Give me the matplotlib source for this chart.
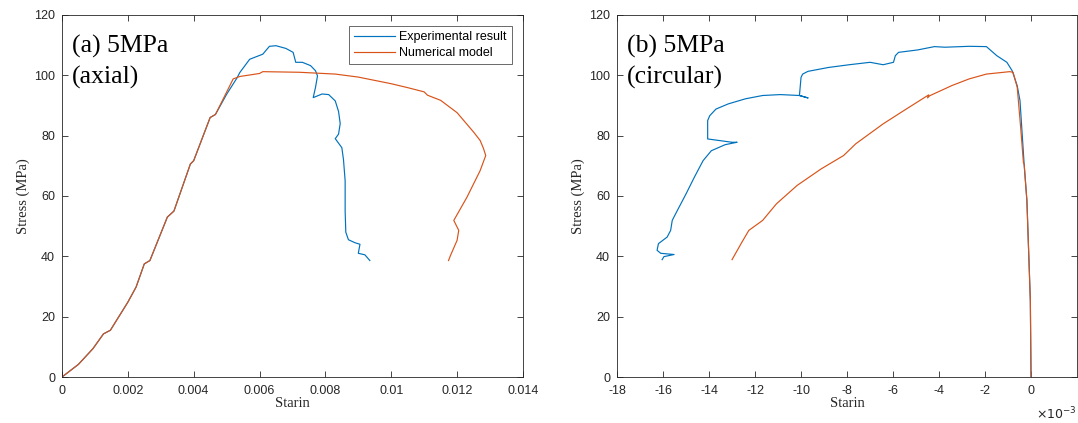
import numpy as np
import matplotlib
matplotlib.use("Agg")
import matplotlib.pyplot as plt
from matplotlib.ticker import FuncFormatter

plt.rcParams['font.family'] = ['Liberation Sans', 'DejaVu Sans']
plt.rcParams['axes.unicode_minus'] = False

BLUE = '#0072BD'
ORANGE = '#D95319'

# ---- (a) axial : strain, stress (MPa)
axial_num_x = [0, 0.0005, 0.00094, 0.00126, 0.00147, 0.002, 0.00225, 0.0025, 0.00267, 0.0032, 0.0034,
               0.0039, 0.004, 0.0045, 0.00466, 0.0052, 0.0054, 0.0060, 0.0061, 0.0072, 0.0083,
               0.009, 0.0100, 0.0105, 0.0110, 0.0111, 0.0115, 0.0120, 0.0125, 0.0127, 0.0128,
               0.01287, 0.0127, 0.0123, 0.0119, 0.01205, 0.0120, 0.0118, 0.01174]
axial_num_y = [0, 4.2, 9.4, 14.3, 15.5, 24.8, 29.8, 37.5, 38.6, 53, 55,
               70.6, 71.7, 86, 87, 98.8, 99.6, 100.6, 101.2, 101.0, 100.4,
               99.4, 97.2, 95.9, 94.5, 93.4, 91.7, 87.6, 81.2, 78.4, 75.8,
               73.4, 68.4, 59.6, 51.9, 48.6, 45.3, 40.3, 38.6]

axial_exp_x = [0, 0.0005, 0.00094, 0.00126, 0.00147, 0.002, 0.00225, 0.0025, 0.00267, 0.0032, 0.0034,
               0.0039, 0.004, 0.0045, 0.00466,
               0.0050, 0.00532, 0.0054, 0.0057, 0.0061, 0.0063, 0.0065, 0.0068, 0.00702,
               0.0071, 0.0073, 0.00755, 0.0077, 0.00776, 0.0077, 0.00763, 0.0079, 0.0081, 0.0083,
               0.0084, 0.00845, 0.0084, 0.0083, 0.0084, 0.0085, 0.00855, 0.0086, 0.0086, 0.00862,
               0.0087, 0.0089, 0.00905, 0.009, 0.0092, 0.00935]
axial_exp_y = [0, 4.2, 9.4, 14.3, 15.5, 24.8, 29.8, 37.5, 38.6, 53, 55,
               70.6, 71.7, 86, 87,
               93.7, 99.2, 100.9, 105.3, 107, 109.6, 109.8, 108.9, 107.6,
               104.3, 104.3, 103.2, 101.5, 99.8, 96, 92.6, 93.8, 93.6, 91.5,
               88, 84, 80.5, 79, 77.5, 76, 72, 65, 55, 48,
               45.5, 44.5, 44, 41, 40.5, 38.6]

# ---- (b) circular : strain (x1e-3), stress (MPa)
circ_num_x = [0, -0.03, -0.18, -0.3, -0.33, -0.45, -0.6, -0.78, -0.93, -1.94,
              -2.69, -3.44, -4.41, -4.5, -4.45, -5.53, -6.43, -7.62, -8.15, -9.12,
              -10.17, -11.07, -11.67, -12.27, -12.57, -13.0]
circ_num_y = [0, 25.4, 58.5, 70.6, 71, 82.6, 96, 101, 101.2, 100.4,
              98.8, 96.6, 93.2, 92.5, 93.5, 88.3, 83.9, 77.3, 73.4, 69,
              63.5, 57.4, 51.9, 48.6, 44.7, 38.9]

circ_exp_x = [0, -0.03, -0.18, -0.3, -0.48, -0.6, -0.82, -1.05, -1.49, -1.94,
              -2.69, -3.74, -4.2, -4.93, -5.76, -5.9, -5.98, -6.43, -7.0, -7.9,
              -8.8, -9.7, -9.93, -10.0, -10.07, -9.7, -10.07, -10.9, -11.67, -12.42,
              -13.17, -13.7, -13.97, -14.06, -14.06, -13.0, -12.78, -13.3, -13.9, -14.26,
              -14.64, -15.0, -15.46, -15.6, -15.67, -15.82, -16.2, -16.26, -16.1, -15.52,
              -15.96, -16.04]
circ_exp_y = [0, 25.4, 58.5, 70.6, 91.6, 96.5, 101.5, 104.3, 106.5, 109.5,
              109.6, 109.3, 109.5, 108.4, 107.6, 106.5, 104.3, 103.5, 104.3, 103.5,
              102.6, 101.3, 100.4, 99.3, 93.3, 92.5, 93.3, 93.6, 93.3, 92.2,
              90.5, 88.8, 86.6, 85, 78.9, 77.8, 77.8, 77, 75, 71.7,
              66.2, 60.7, 54, 51.9, 48.6, 46.4, 44.2, 42, 41, 40.6,
              39.9, 38.9]

fig = plt.figure(figsize=(10.78, 4.23), dpi=100)
ax1 = fig.add_axes([0.0575, 0.1087, 0.4276, 0.856])
ax2 = fig.add_axes([0.5724, 0.1087, 0.4267, 0.856])


def style(ax):
    for s in ax.spines.values():
        s.set_color('#262626')
        s.set_linewidth(0.6)
    ax.tick_params(direction='in', length=4, width=0.6, top=True, right=True,
                   labelsize=9, colors='#262626', labelcolor='#262626')
    ax.tick_params(axis='x', pad=6)
    ax.tick_params(axis='y', pad=5)
    ax.set_ylim(0, 120)
    ax.set_yticks(np.arange(0, 121, 20))
    ax.set_ylabel('Stress (MPa)', family='Liberation Serif', fontsize=10.5, color='#262626', labelpad=3)
    ax.set_xlabel('Starin', family='Liberation Serif', fontsize=10.5, color='#262626', labelpad=0)


ax1.plot(axial_exp_x, axial_exp_y, color=BLUE, lw=0.85, label='Experimental result')
ax1.plot(axial_num_x, axial_num_y, color=ORANGE, lw=0.85, label='Numerical model')
ax1.set_xlim(0, 0.014)
ax1.set_xticks(np.arange(0, 0.0141, 0.002))
ax1.xaxis.set_major_formatter(FuncFormatter(lambda v, p: '%g' % round(v, 4)))
style(ax1)
ax1.text(0.022, 0.945, '(a) 5MPa\n(axial)', transform=ax1.transAxes, va='top', ha='left',
         family='Liberation Serif', fontsize=18.5, linespacing=1.45)
leg = ax1.legend(loc='upper right', fontsize=9, frameon=True, fancybox=False,
                 handlelength=3.3, handletextpad=0.3, borderpad=0.4, labelspacing=0.3,
                 borderaxespad=0.9)
leg.get_frame().set_edgecolor('#262626')
leg.get_frame().set_linewidth(0.6)

ax2.plot(circ_exp_x, circ_exp_y, color=BLUE, lw=0.85)
ax2.plot(circ_num_x, circ_num_y, color=ORANGE, lw=0.85)
ax2.set_xlim(-18, 2)
ax2.set_xticks(np.arange(-18, 1, 2))
ax2.xaxis.set_major_formatter(FuncFormatter(lambda v, p: '%g' % v))
style(ax2)
ax2.text(1.0, -0.08, r'$\times10^{-3}$', transform=ax2.transAxes, ha='right', va='top',
         fontsize=9, color='#262626')
ax2.text(0.022, 0.945, '(b) 5MPa\n(circular)', transform=ax2.transAxes, va='top', ha='left',
         family='Liberation Serif', fontsize=18.5, linespacing=1.45)

fig.savefig('out.png', dpi=100)
